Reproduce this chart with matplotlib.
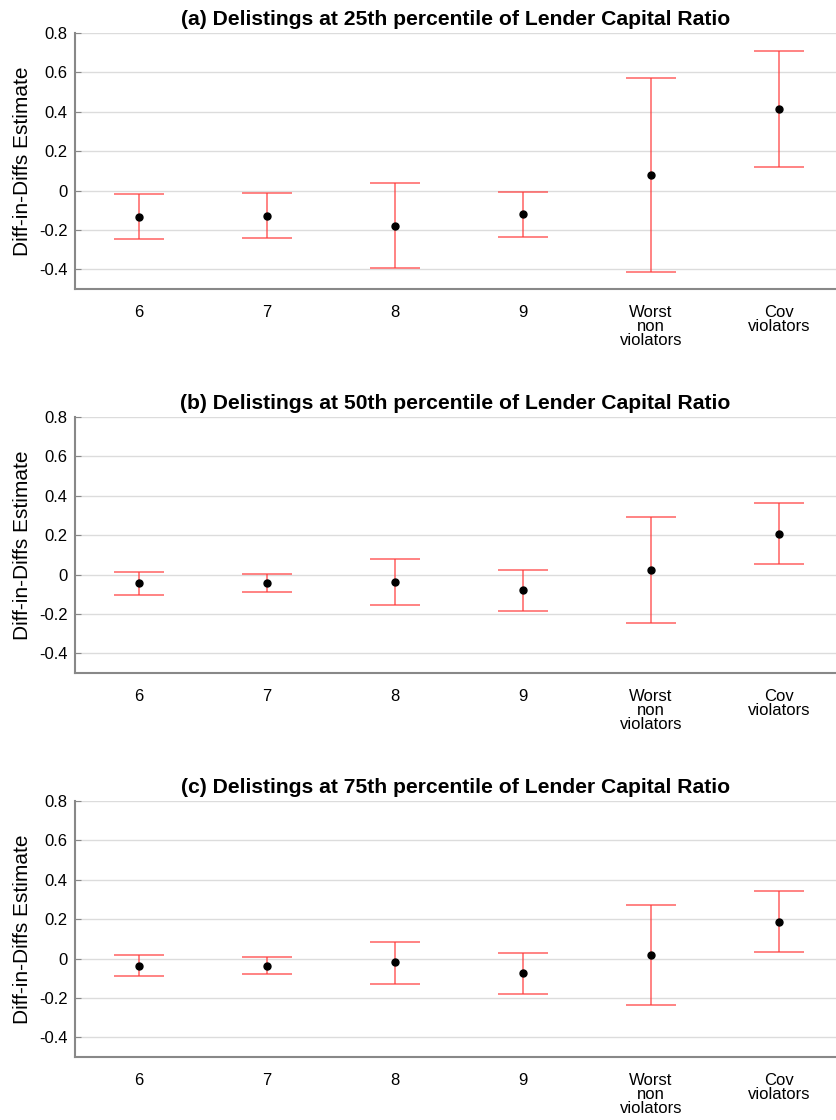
import matplotlib
matplotlib.use("Agg")
import matplotlib.pyplot as plt
import numpy as np

categories = ["6", "7", "8", "9", "Worst\nnon\nviolators", "Cov\nviolators"]
titles = [
    "(a) Delistings at 25th percentile of Lender Capital Ratio",
    "(b) Delistings at 50th percentile of Lender Capital Ratio",
    "(c) Delistings at 75th percentile of Lender Capital Ratio",
]
ytick_vals = [-0.4, -0.2, 0.0, 0.2, 0.4, 0.6, 0.8]
ytick_labels = ["-0.4", "-0.2", "0", "0.2", "0.4", "0.6", "0.8"]

est_a = [-0.132, -0.129, -0.180, -0.119, 0.079, 0.413]
lo_a = [-0.244, -0.241, -0.393, -0.234, -0.415, 0.118]
hi_a = [-0.020, -0.015, 0.036, -0.007, 0.574, 0.709]

est_b = [-0.044, -0.044, -0.036, -0.080, 0.022, 0.208]
lo_b = [-0.102, -0.088, -0.153, -0.183, -0.248, 0.051]
hi_b = [0.013, 0.002, 0.079, 0.025, 0.293, 0.364]

est_c = [-0.036, -0.036, -0.020, -0.074, 0.017, 0.188]
lo_c = [-0.090, -0.081, -0.129, -0.180, -0.237, 0.031]
hi_c = [0.020, 0.010, 0.085, 0.029, 0.273, 0.345]

panels = [(est_a, lo_a, hi_a), (est_b, lo_b, hi_b), (est_c, lo_c, hi_c)]

plt.rcParams['font.family'] = ['Liberation Sans', 'DejaVu Sans']

W, H = 836, 1120
fig = plt.figure(figsize=(W / 100, H / 100), dpi=100)

tops = [33, 417, 801]
ax_h = 256
left_px = 74.7

x = np.arange(1, len(categories) + 1)
for (est, lo, hi), title, top in zip(panels, titles, tops):
    ax = fig.add_axes([left_px / W, 1 - (top + ax_h) / H, (W - left_px) / W, ax_h / H])
    est = np.array(est); lo = np.array(lo); hi = np.array(hi)
    ax.errorbar(x, est, yerr=[est - lo, hi - est], fmt='none', ecolor='#ff3b3b',
                elinewidth=1.1, capsize=18, capthick=1.1, alpha=0.8, zorder=3)
    ax.plot(x, est, 'o', color='black', markersize=5, zorder=4)
    ax.set_xlim(0.5, 6.445)
    ax.set_ylim(-0.5, 0.8)
    ax.set_yticks(ytick_vals)
    ax.set_yticklabels(ytick_labels, fontsize=12)
    ax.set_xticks(x)
    ax.set_xticklabels(categories, fontsize=12, linespacing=0.9)
    ax.tick_params(axis='x', length=0, pad=11.5)
    ax.tick_params(axis='y', direction='in', length=4, color='#888888', pad=5)
    ax.yaxis.grid(True, color='#dcdcdc', linewidth=1.0)
    ax.set_axisbelow(True)
    for s in ['top', 'right']:
        ax.spines[s].set_visible(False)
    for s in ['left', 'bottom']:
        ax.spines[s].set_color('#888888')
        ax.spines[s].set_linewidth(1.5)
    ax.set_ylabel("Diff-in-Diffs Estimate", fontsize=15, labelpad=5)
    ax.set_title(title, fontsize=15.2, fontweight='bold', pad=6)

fig.savefig("out.png", dpi=100)
